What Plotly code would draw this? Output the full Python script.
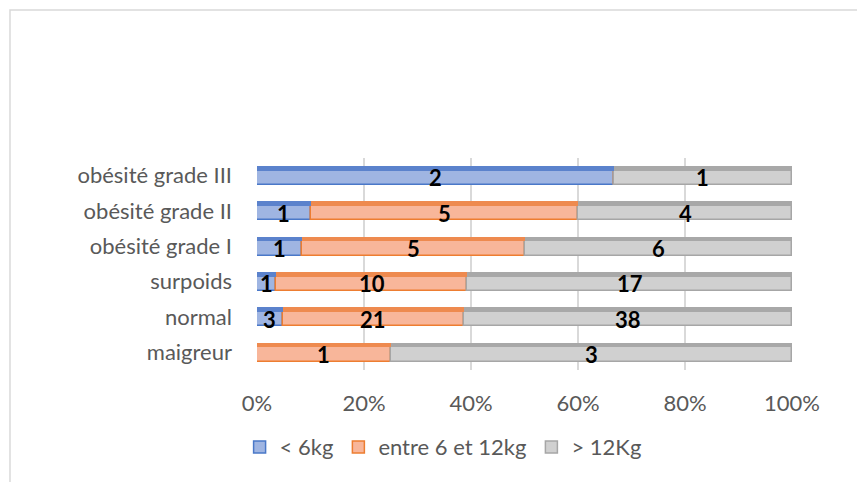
import plotly.graph_objects as go

categories = ["maigreur", "normal", "surpoids", "obésité grade I", "obésité grade II", "obésité grade III"]
series_names = ["< 6kg", "entre 6 et 12kg", "> 12Kg"]
lt6 = [0, 3, 1, 1, 1, 2]
mid = [1, 21, 10, 5, 5, 0]
gt12 = [3, 38, 17, 6, 4, 1]
tick_vals = [0, 0.2, 0.4, 0.6, 0.8, 1.0]
tick_text = ["0%", "20%", "40%", "60%", "80%", "100%"]

fills = ["#9FB5E2", "#F8B69A", "#D0D0D0"]
edges = ["#4A78C8", "#ED7D31", "#A6A6A6"]
tops = ["#5B82CC", "#EE8A4F", "#A8A8A8"]

totals = [a + b + c for a, b, c in zip(lt6, mid, gt12)]
series = [lt6, mid, gt12]
pcts = [[v / t for v, t in zip(s, totals)] for s in series]
bases = []
cum = [0.0] * len(categories)
for p in pcts:
    bases.append(list(cum))
    cum = [c + v for c, v in zip(cum, p)]

FONT = "Lato, Open Sans, sans-serif"

fig = go.Figure()
for i in range(3):
    fig.add_trace(go.Bar(
        y=categories, x=pcts[i], base=bases[i], orientation="h", name=series_names[i],
        marker=dict(color=fills[i], line=dict(color=edges[i], width=1.5)),
        width=0.40, offset=-0.26, hoverinfo="skip",
    ))
for i in range(3):
    fig.add_trace(go.Bar(
        y=categories, x=pcts[i], base=bases[i], orientation="h", showlegend=False,
        marker=dict(color=tops[i], line=dict(width=0)),
        width=0.13, offset=0.14, hoverinfo="skip",
    ))

for i in range(3):
    for cat, b, p, v in zip(categories, bases[i], pcts[i], series[i]):
        if v:
            fig.add_annotation(x=b + p / 2, y=cat, text=str(v), showarrow=False, yshift=-2,
                               font=dict(family=FONT, size=22, color="#000000", weight="bold"))

fig.add_shape(type="rect", xref="paper", yref="paper", x0=-0.4617, x1=1.3, y0=-1.0, y1=1.698,
              line=dict(color="#D9D9D9", width=1.5), fillcolor="rgba(0,0,0,0)", layer="below")

fig.update_layout(
    width=865, height=482, barmode="overlay", bargap=0,
    paper_bgcolor="white", plot_bgcolor="white",
    margin=dict(l=249, r=81, t=150, b=120),
    font=dict(family=FONT, size=22, color="#595959"),
    xaxis=dict(range=[0, 1.0], tickvals=tick_vals, ticktext=tick_text, showgrid=True,
               gridcolor="#D9D9D9", gridwidth=1.5, zeroline=False, showline=False,
               ticklabelstandoff=18, automargin=False, tickfont=dict(size=22, color="#595959")),
    yaxis=dict(categoryorder="array", categoryarray=categories, range=[-0.5, 5.5],
               showgrid=False, zeroline=False, ticks="", ticklabelstandoff=24, automargin=False,
               tickfont=dict(size=22, color="#595959")),
    legend=dict(orientation="h", xref="container", yref="container", x=0.503, y=0.089,
                xanchor="center", yanchor="middle", font=dict(size=22, color="#595959"),
                traceorder="normal", itemwidth=30),
    showlegend=True,
)

fig.write_html("out.html")
